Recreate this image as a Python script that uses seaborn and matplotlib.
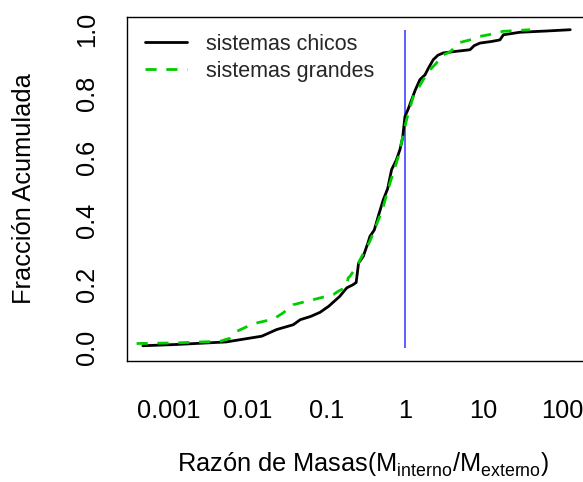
import numpy as np
import pandas as pd
import matplotlib
matplotlib.use("Agg")
import matplotlib.pyplot as plt
import seaborn as sns

# ---- data ----
chicos_log_ratio = [-3.33, -2.9, -2.27, -1.82, -1.72, -1.63, -1.42, -1.33, -1.2, -1.08,
                    -0.97, -0.83, -0.74, -0.66, -0.62, -0.59, -0.53, -0.47, -0.445, -0.39,
                    -0.34, -0.276, -0.22, -0.17, -0.11, -0.064, -0.03, 0.0, 0.04, 0.085,
                    0.13, 0.19, 0.254, 0.30, 0.36, 0.42, 0.487, 0.65, 0.826, 0.88,
                    0.953, 1.1, 1.207, 1.25, 1.46, 1.8, 2.10]
chicos_frac = [0.006, 0.010, 0.018, 0.036, 0.047, 0.057, 0.072, 0.088, 0.098, 0.111,
               0.130, 0.161, 0.188, 0.198, 0.205, 0.266, 0.287, 0.330, 0.350, 0.370,
               0.413, 0.465, 0.500, 0.560, 0.590, 0.623, 0.660, 0.727, 0.750, 0.780,
               0.810, 0.843, 0.858, 0.880, 0.906, 0.920, 0.927, 0.932, 0.937, 0.950,
               0.958, 0.963, 0.968, 0.984, 0.992, 0.996, 1.000]

grandes_log_ratio = [-3.41, -2.9, -2.35, -2.22, -2.14, -1.93, -1.67, -1.55, -1.42, -1.165,
                     -0.91, -0.85, -0.75, -0.72, -0.70, -0.61, -0.57, -0.445, -0.32, -0.276,
                     -0.19, -0.085, 0.02, 0.106, 0.233, 0.318, 0.40, 0.445, 0.57, 0.70,
                     0.826, 0.953, 1.08, 1.25, 1.59]
grandes_frac = [0.013, 0.015, 0.020, 0.030, 0.051, 0.075, 0.090, 0.109, 0.135, 0.151,
                0.167, 0.177, 0.190, 0.220, 0.224, 0.256, 0.277, 0.335, 0.413, 0.444,
                0.518, 0.600, 0.717, 0.790, 0.843, 0.874, 0.895, 0.916, 0.930, 0.960,
                0.968, 0.979, 0.985, 0.995, 1.000]

series_names = ["sistemas chicos", "sistemas grandes"]
ref_ratio = 1.0
x_ticks = [0.001, 0.01, 0.1, 1, 10, 100]
x_tick_labels = ["0.001", "0.01", "0.1", "1", "10", "100"]
y_ticks = [0.0, 0.2, 0.4, 0.6, 0.8, 1.0]
y_tick_labels = ["0.0", "0.2", "0.4", "0.6", "0.8", "1.0"]

df = pd.concat([
    pd.DataFrame({"ratio": 10 ** np.array(chicos_log_ratio), "frac": chicos_frac,
                  "grupo": series_names[0]}),
    pd.DataFrame({"ratio": 10 ** np.array(grandes_log_ratio), "frac": grandes_frac,
                  "grupo": series_names[1]}),
], ignore_index=True)

# ---- style ----
sns.set_style("white")
plt.rcParams["font.family"] = ["Liberation Sans", "DejaVu Sans"]
plt.rcParams["mathtext.fontset"] = "custom"
plt.rcParams["mathtext.rm"] = "Liberation Sans"
plt.rcParams["mathtext.it"] = "Liberation Sans:italic"
plt.rcParams["mathtext.bf"] = "Liberation Sans:bold"
FS = 18.3      # axis + tick text
FS_LEG = 15.5  # legend text

W, H = 583, 482
fig = plt.figure(figsize=(W / 100, H / 100), dpi=100)
ax = fig.add_axes([127 / W, 1 - 361 / H, (600 - 127) / W, (361 - 17) / H])

sns.lineplot(data=df, x="ratio", y="frac", hue="grupo", style="grupo",
             palette={series_names[0]: "black", series_names[1]: "#00CD00"},
             dashes={series_names[0]: "", series_names[1]: (4, 3.5)},
             estimator=None, sort=False, linewidth=2.0, ax=ax, legend=True)
ax.vlines(ref_ratio, 0, 1, color="#3333FF", linewidth=1.1, zorder=1)

ax.set_xscale("log")
ax.set_xlim(10 ** (-3.532), 10 ** 2.478)
ax.set_ylim(-0.042, 1.040)
ax.set_xticks(x_ticks)
ax.set_xticklabels(x_tick_labels)
ax.xaxis.set_minor_locator(matplotlib.ticker.NullLocator())
ax.set_yticks(y_ticks)
ax.set_yticklabels(y_tick_labels, rotation=90, va="center")
ax.tick_params(axis="both", direction="out", length=11.5, width=1.0, color="black",
               labelsize=FS, labelcolor="black")
ax.tick_params(axis="x", pad=16)
ax.tick_params(axis="y", pad=8.5)
for s in ax.spines.values():
    s.set_color("black")
    s.set_linewidth(1.0)

ax.set_xlabel(r"Razón de Masas$\left(\mathrm{M_{interno}}/\mathrm{M_{externo}}\right)$",
              fontsize=FS, color="black", labelpad=19)
ax.set_ylabel("Fracción Acumulada", fontsize=FS, color="black", labelpad=28)

handles, labels = ax.get_legend_handles_labels()
ax.legend(handles, labels, loc="upper left", frameon=False, fontsize=FS_LEG,
          bbox_to_anchor=((145 - 127) / 473, (361 - 34) / 344),
          borderaxespad=0, borderpad=0, handlelength=1.95, handletextpad=0.9,
          labelspacing=0.27)

fig.savefig("out.png", dpi=100)
